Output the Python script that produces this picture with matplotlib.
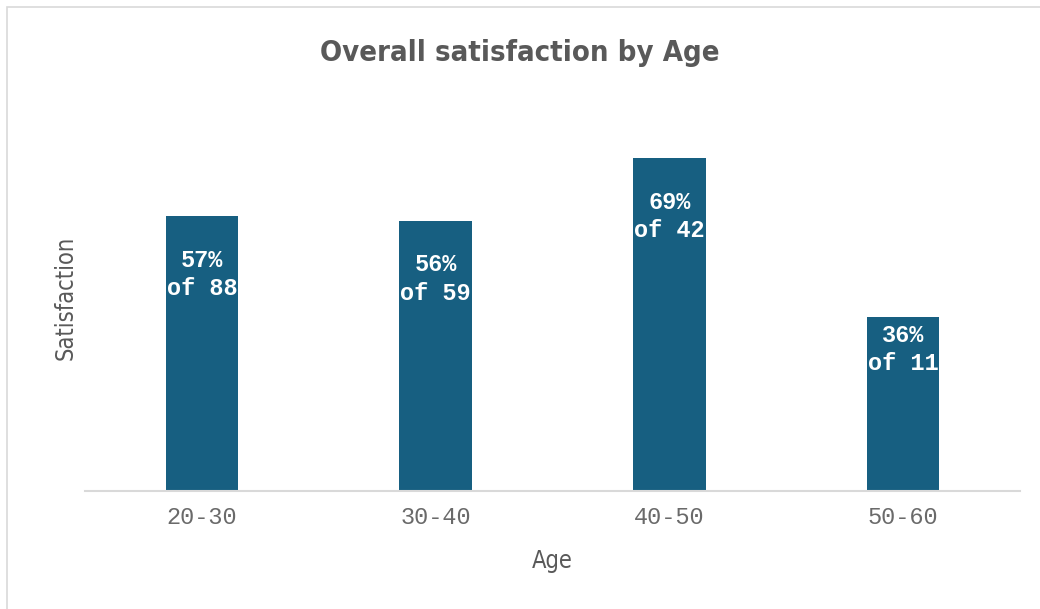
import numpy as np
import matplotlib.pyplot as plt
from matplotlib import font_manager
from matplotlib.patches import Rectangle

# chart data
age_groups = ["20-30", "30-40", "40-50", "50-60"]
satisfaction_pct = [57, 56, 69, 36]
respondents = [88, 59, 42, 11]

bar_color = "#175f81"
text_color = "#595959"

# pick a narrow font if one is installed
narrow = None
for f in font_manager.fontManager.ttflist:
    if "Narrow" in f.name or f.stretch in ("condensed", "semi-condensed", "extra-condensed"):
        narrow = f
        break
if narrow is not None:
    cond = dict(family=narrow.name, stretch=narrow.stretch)
else:
    cond = dict(family="DejaVu Sans", stretch="condensed")

fig = plt.figure(figsize=(10.4, 6.09), dpi=100)
ax = fig.add_axes([85 / 1040, 118 / 609, 935 / 1040, 386 / 609])

x = np.arange(len(age_groups))
bars = ax.bar(x, satisfaction_pct, width=0.31, color=bar_color)

# labels inside the bars
for rect, pct, n in zip(bars, satisfaction_pct, respondents):
    off = -42 if pct > 40 else -23
    ax.annotate(f"{pct}%\nof {n}",
                (rect.get_x() + rect.get_width() / 2, rect.get_height()),
                xytext=(0, off), textcoords="offset points",
                ha="center", va="center", color="white",
                fontsize=17, fontweight="bold", family="Liberation Mono",
                linespacing=1.3)

ax.set_xlim(-0.5, len(age_groups) - 0.5)
ax.set_ylim(0, 80)
ax.set_xticks(x)
ax.set_xticklabels(age_groups, family="Liberation Mono", fontsize=17, color="#6a6a6a")
ax.set_yticks([])
ax.tick_params(axis="x", length=0, pad=11)

for side in ["top", "right", "left"]:
    ax.spines[side].set_visible(False)
ax.spines["bottom"].set_color("#d9d9d9")
ax.spines["bottom"].set_linewidth(1.5)

ax.set_xlabel("Age", fontsize=17, color=text_color, labelpad=14, **cond)
ax.set_ylabel("Satisfaction", fontsize=17, color=text_color, labelpad=5, **cond)

fig.text(0.5, 1 - 53 / 609, "Overall satisfaction by Age", ha="center", va="center",
         fontweight="bold", fontsize=21, color=text_color, **cond)

# outer chart border
fig.patches.append(Rectangle((7 / 1040, -0.05), 1.1, 1 - 7 / 609 + 0.05,
                             transform=fig.transFigure, fill=False,
                             edgecolor="#d9d9d9", linewidth=1.2))

fig.savefig("out.png", dpi=100)
